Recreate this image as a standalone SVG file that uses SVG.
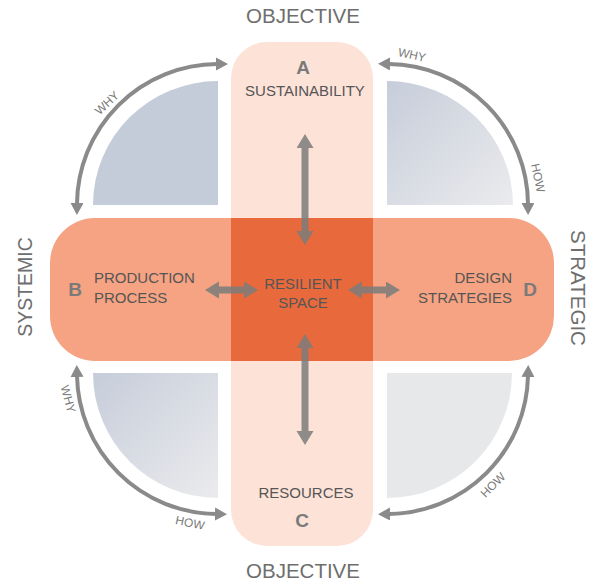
<svg xmlns="http://www.w3.org/2000/svg" width="589" height="583" viewBox="0 0 589 583">
<defs>
<style>
text{font-family:"Liberation Sans",Arial,sans-serif}
.outer{font-size:20.5px;fill:#6e6e6e;text-anchor:middle}
.lbl{font-size:15px;fill:#555;text-anchor:middle}
.let{font-size:19px;font-weight:bold;fill:#7a7a7a;text-anchor:middle}
.arcl{font-size:12px;fill:#7a7a7a;text-anchor:middle}
.arc{fill:none;stroke:#8a8a8a;stroke-width:4;marker-start:url(#ah);marker-end:url(#ah)}
.dbl{stroke:#7c7c7c;stroke-width:7;marker-start:url(#bh);marker-end:url(#bh)}
</style>
<marker id="ah" markerUnits="userSpaceOnUse" markerWidth="14" markerHeight="14" refX="1" refY="6.5" orient="auto-start-reverse"><path d="M0,0 L12,6.5 L0,13 z" fill="#8a8a8a"/></marker>
<marker id="bh" markerUnits="userSpaceOnUse" markerWidth="18" markerHeight="18" refX="1" refY="8.5" orient="auto-start-reverse"><path d="M0,0 L14,8.5 L0,17 z" fill="#7c7c7c"/></marker>
<linearGradient id="gq" x1="0" y1="0" x2="1" y2="1"><stop offset="0" stop-color="#c6cdda"/><stop offset="1" stop-color="#ebebed"/></linearGradient>
</defs>
<g id="quadrants">
<path id="q-tl" d="M218 81 L218 205 L93 205 A125 124 0 0 1 218 81 Z" fill="#c5ccd9"/>
<path id="q-tr" d="M387 81 A126 124 0 0 1 513 205 L387 205 Z" fill="url(#gq)"/>
<path id="q-bl" d="M93 373 A125 125 0 0 0 218 498 L218 373 Z" fill="url(#gq)"/>
<path id="q-br" d="M387 373 L512 373 A125 125 0 0 1 387 498 Z" fill="#e7e8ea"/>
</g>
<g id="bands">
<rect id="band-v" x="231" y="42" width="142" height="504" rx="36" fill="#fde2d8"/>
<rect id="band-h" x="50" y="218" width="504" height="143" rx="45" fill="#f5a382"/>
<rect id="center" x="231" y="218" width="142" height="143" fill="#e86a3c"/>
</g>
<g id="connectors">
<path class="arc" d="M77 204 A141 141 0 0 1 217 64"/>
<path class="arc" d="M389 64 A141 141 0 0 1 528 204"/>
<path class="arc" d="M77 376 A141 141 0 0 0 216 514"/>
<path class="arc" d="M389 514 A141 141 0 0 0 528 376"/>
<g opacity="0.85">
<line class="dbl" x1="305" y1="147" x2="305" y2="232"/>
<line class="dbl" x1="305" y1="347" x2="305" y2="432"/>
<line class="dbl" x1="218" y1="290" x2="245" y2="290"/>
<line class="dbl" x1="361" y1="290" x2="387" y2="290"/>
</g>
<text class="arcl" transform="translate(107,103) rotate(-43)" y="4">WHY</text>
<text class="arcl" transform="translate(412,55) rotate(12)" y="4">WHY</text>
<text class="arcl" transform="translate(538,178) rotate(78)" y="4">HOW</text>
<text class="arcl" transform="translate(68,399) rotate(75)" y="4">WHY</text>
<text class="arcl" transform="translate(190,523) rotate(12)" y="4">HOW</text>
<text class="arcl" transform="translate(493,485) rotate(-45)" y="4">HOW</text>
</g>
<g id="node-a">
<text class="let" x="303" y="74">A</text>
<text class="lbl" x="305" y="96">SUSTAINABILITY</text>
</g>
<g id="node-b">
<text class="let" x="75" y="296">B</text>
<text class="lbl" x="94" y="283" style="text-anchor:start">PRODUCTION</text>
<text class="lbl" x="94" y="303" style="text-anchor:start">PROCESS</text>
</g>
<g id="node-center">
<text class="lbl" x="303" y="289">RESILIENT</text>
<text class="lbl" x="303" y="308">SPACE</text>
</g>
<g id="node-d">
<text class="lbl" x="512" y="283" style="text-anchor:end">DESIGN</text>
<text class="lbl" x="512" y="303" style="text-anchor:end">STRATEGIES</text>
<text class="let" x="530" y="296">D</text>
</g>
<g id="node-c">
<text class="lbl" x="306" y="498">RESOURCES</text>
<text class="let" x="302" y="527">C</text>
</g>
<g id="axis-labels">
<text class="outer" x="303" y="23">OBJECTIVE</text>
<text class="outer" x="303" y="578">OBJECTIVE</text>
<text class="outer" style="font-size:19.5px" transform="translate(32,287) rotate(-90)">SYSTEMIC</text>
<text class="outer" style="font-size:20.5px" transform="translate(571,288) rotate(90)">STRATEGIC</text>
</g>
</svg>
